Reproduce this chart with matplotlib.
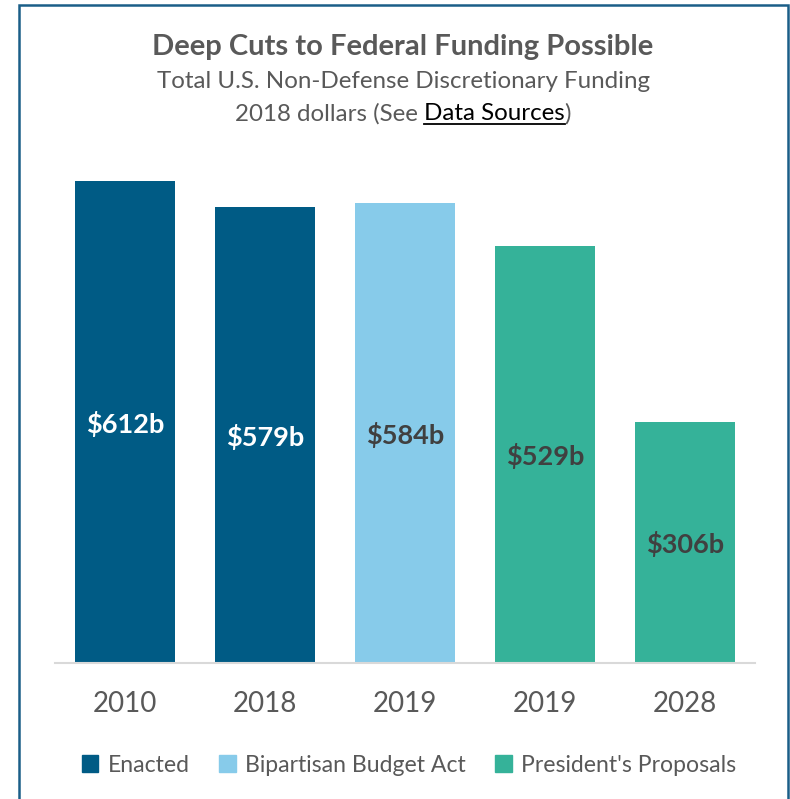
import matplotlib
matplotlib.use("Agg")
import matplotlib.pyplot as plt
from matplotlib.patches import Patch, Rectangle

plt.rcParams['font.family'] = ['Lato', 'DejaVu Sans']

# funding data (billions, 2018 dollars)
years = ["2010", "2018", "2019", "2019", "2028"]
values = [612, 579, 584, 529, 306]
groups = ["Enacted", "Enacted", "Bipartisan Budget Act", "President's Proposals", "President's Proposals"]
labels = ["$612b", "$579b", "$584b", "$529b", "$306b"]

group_colors = {
    "Enacted": "#005B85",
    "Bipartisan Budget Act": "#87CBEA",
    "President's Proposals": "#35B299",
}
label_colors = {
    "Enacted": "white",
    "Bipartisan Budget Act": "#404040",
    "President's Proposals": "#404040",
}
gray = "#595959"

W, H = 790, 799
fig = plt.figure(figsize=(W / 100, H / 100), dpi=100)

# axes placement in pixels
base_y = 663
px_per_unit = (663 - 181) / 612
ymax = 650
ax_left, ax_right = 55, 755
ax_top = base_y - ymax * px_per_unit
ax = fig.add_axes([ax_left / W, (H - base_y) / H, (ax_right - ax_left) / W, (base_y - ax_top) / H])

x = range(len(years))
colors = [group_colors[g] for g in groups]
ax.bar(x, values, width=100 / 140, color=colors, zorder=2)
for xi, v, lab, g in zip(x, values, labels, groups):
    ax.text(xi, v / 2 - 2, lab, ha="center", va="center", fontsize=19.5, fontweight="bold",
            color=label_colors[g])

ax.set_xlim(-0.5, 4.5)
ax.set_ylim(0, ymax)
ax.set_yticks([])
ax.set_xticks(list(x))
ax.set_xticklabels(years, fontsize=20, color=gray)
ax.tick_params(axis="x", length=0, pad=20)
for s in ["top", "left", "right"]:
    ax.spines[s].set_visible(False)
ax.spines["bottom"].set_color("#d9d9d9")
ax.spines["bottom"].set_linewidth(1.5)

# titles
cx = 403 / W
fig.text(cx, 1 - 47 / H, "Deep Cuts to Federal Funding Possible", ha="center", va="center",
         fontsize=21, fontweight="bold", color=gray)
fig.text(cx, 1 - 81 / H, "Total U.S. Non-Defense Discretionary Funding", ha="center", va="center",
         fontsize=17.4, color=gray)

# third line with an underlined link-style segment
parts = [("2018 dollars (See ", gray, False), ("Data Sources", "black", True), (")", gray, False)]
renderer = fig.canvas.get_renderer()
texts = [fig.text(0, 1 - 114 / H, s, ha="left", va="center", fontsize=17.4, color=c) for s, c, _ in parts]
widths = [t.get_window_extent(renderer).width for t in texts]
start = cx * W - sum(widths) / 2
pos = start
for t, w, (s, c, ul) in zip(texts, widths, parts):
    t.set_x(pos / W)
    if ul:
        bb = t.get_window_extent(renderer)
        uy = bb.y0 + 1
        fig.add_artist(plt.Line2D([pos / W, (pos + w) / W], [uy / H, uy / H], color="black", lw=1.3))
    pos += w

# legend
handles = [Patch(color=group_colors[k], label=k) for k in group_colors]
fig.legend(handles=handles, loc="center", bbox_to_anchor=(409 / W, 1 - 765 / H), ncol=3,
           frameon=False, fontsize=16.6, handlelength=0.7, handleheight=0.7, handletextpad=0.4,
           columnspacing=1.3, labelcolor=gray)

# outer frame
fig.add_artist(Rectangle((19 / W, -0.05), (788 - 19) / W, 1 - 5 / H + 0.05, transform=fig.transFigure,
                         fill=False, edgecolor="#1a5e88", lw=1.8))

fig.savefig("out.png", dpi=100)
